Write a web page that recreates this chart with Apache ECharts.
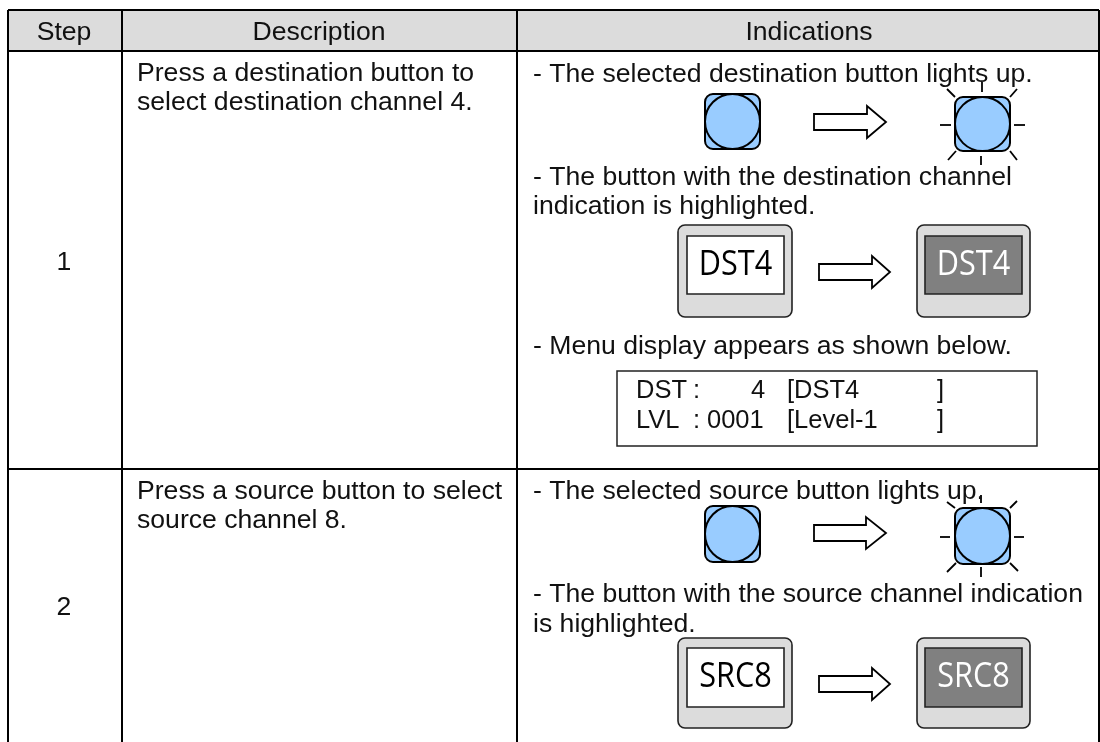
<!DOCTYPE html>
<html>
<head>
<meta charset="utf-8">
<title>Steps</title>
<script src="https://cdn.jsdelivr.net/npm/echarts@6/dist/echarts.min.js"></script>
<style>
  html, body { margin: 0; padding: 0; background: #fff; }
  #main { width: 1100px; height: 742px; }
</style>
</head>
<body>
<div id="main"></div>
<script>
const headerLabels = [[64, 39, 'Step'], [319, 39, 'Description'], [809, 39, 'Indications']];
const stepLabels = [[64, 269, '1'], [64, 614, '2']];
const bodyLines = [
  [137, 80, 'Press a destination button to'],
  [137, 109, 'select destination channel 4.'],
  [137, 498, 'Press a source button to select'],
  [137, 527, 'source channel 8.'],
  [533, 81, '- The selected destination button lights up.'],
  [533, 184, '- The button with the destination channel'],
  [533, 213, 'indication is highlighted.'],
  [533, 353, '- Menu display appears as shown below.'],
  [533, 498, '- The selected source button lights up.'],
  [533, 601, '- The button with the source channel indication'],
  [533, 631, 'is highlighted.']
];
const menuLines = [
  [636, 397, 'DST'], [693, 397, ':'], [751, 397, '4'], [787, 397, '[DST4'], [937, 397, ']'],
  [636, 427, 'LVL'], [693, 427, ':'], [707, 427, '0001'], [787, 427, '[Level-1'], [937, 427, ']']
];
// header band: x0, y0, x1, y1
const headerBand = [[8, 10, 1099, 51]];
// table rules: x0, y0, x1, y1
const tableRules = [
  [8, 10, 1099, 10],
  [8, 51, 1099, 51],
  [8, 469, 1099, 469],
  [8, 10, 8, 742],
  [122, 10, 122, 742],
  [517, 10, 517, 742],
  [1099, 10, 1099, 742]
];
const menuBox = [[617, 371, 1037, 446]];
// round buttons: x0, y0, x1, y1
const roundButtons = [
  [705, 94, 760, 149],
  [955, 97, 1010, 151],
  [705, 506, 760, 562],
  [955, 508, 1010, 564]
];
// rays around lit buttons: x0, y0, x1, y1
const rays = [
  [982, 82, 982, 92], [981, 156, 981, 165],
  [940, 125, 951, 125], [1014, 125, 1025, 125],
  [947, 89, 955, 97], [1017, 89, 1010, 97],
  [948, 160, 956, 151], [1017, 160, 1010, 151],
  [981, 495, 981, 503], [981, 567, 981, 577],
  [940, 537, 950, 537], [1014, 537, 1024, 537],
  [947, 502, 955, 508], [1017, 501, 1010, 508],
  [947, 572, 956, 563], [1018, 571, 1010, 563]
];
// arrows: tail x, head base x, tip x, centre y, shaft half height, head half height
const arrows = [
  [814, 867, 886, 122, 8, 16],
  [819, 872, 890, 272, 8, 16],
  [814, 866, 886, 533, 8, 16],
  [819, 872, 890, 684, 8, 16]
];
// display buttons: x0, y0, x1, y1, inner x0, inner y0, inner x1, inner y1, lit (1/0), label
const displayKeys = [
  [678, 225, 792, 317, 687, 236, 784, 294, 0, 'DST4'],
  [917, 225, 1030, 317, 925, 236, 1022, 294, 1, 'DST4'],
  [678, 638, 792, 728, 687, 648, 784, 707, 0, 'SRC8'],
  [917, 638, 1030, 728, 925, 648, 1022, 707, 1, 'SRC8']
];

const BODY_FONT = '26.6px "Liberation Sans"';
const MENU_FONT = '25.5px "Liberation Sans"';

function box(api, r) {
  const a = api.coord([r[0], r[1]]);
  const b = api.coord([r[2], r[3]]);
  return { x: a[0], y: a[1], width: b[0] - a[0], height: b[1] - a[1] };
}

function seg(api, r, width) {
  const a = api.coord([r[0], r[1]]);
  const b = api.coord([r[2], r[3]]);
  return {
    type: 'line',
    shape: { x1: a[0], y1: a[1], x2: b[0], y2: b[1] },
    style: { stroke: '#000', lineWidth: width, lineCap: 'butt' }
  };
}

// y in the arrays is the baseline, the text is placed by its middle
function text(api, d, align, font, lift) {
  const p = api.coord([d[0], d[1]]);
  return {
    type: 'text',
    style: { x: p[0], y: p[1] - lift, text: d[2], fill: '#111', font: font, align: align, verticalAlign: 'middle' }
  };
}

function layer(data, renderItem, z) {
  return {
    type: 'custom',
    coordinateSystem: 'cartesian2d',
    clip: false,
    silent: true,
    z: z,
    encode: { x: 0, y: 1 },
    data: data.map((d) => [d[0], d[1]]),
    renderItem: renderItem
  };
}

const chart = echarts.init(document.getElementById('main'), null, { renderer: 'canvas' });

chart.setOption({
  animation: false,
  backgroundColor: '#fff',
  grid: { left: 0, top: 0, right: 0, bottom: 0 },
  xAxis: { type: 'value', min: 0, max: 1100, show: false },
  yAxis: { type: 'value', min: 0, max: 742, inverse: true, show: false },
  series: [
    layer(headerBand, (p, api) => {
      const b = box(api, headerBand[p.dataIndex]);
      return { type: 'rect', shape: b, style: { fill: '#dcdcdc' } };
    }, 1),
    layer(tableRules, (p, api) => seg(api, tableRules[p.dataIndex], 2), 2),
    layer(menuBox, (p, api) => {
      const b = box(api, menuBox[p.dataIndex]);
      return { type: 'rect', shape: b, style: { fill: '#fff', stroke: '#222', lineWidth: 1.5 } };
    }, 2),
    layer(roundButtons, (p, api) => {
      const b = box(api, roundButtons[p.dataIndex]);
      return {
        type: 'group',
        children: [
          { type: 'rect', shape: Object.assign({ r: 8 }, b), style: { fill: '#99ccff', stroke: '#000', lineWidth: 2 } },
          {
            type: 'ellipse',
            shape: { cx: b.x + b.width / 2, cy: b.y + b.height / 2, rx: b.width / 2, ry: b.height / 2 },
            style: { fill: '#99ccff', stroke: '#000', lineWidth: 2 }
          }
        ]
      };
    }, 3),
    layer(rays, (p, api) => seg(api, rays[p.dataIndex], 1.8), 3),
    layer(arrows, (p, api) => {
      const r = arrows[p.dataIndex];
      const pts = [
        [r[0], r[3] - r[4]], [r[1], r[3] - r[4]], [r[1], r[3] - r[5]], [r[2], r[3]],
        [r[1], r[3] + r[5]], [r[1], r[3] + r[4]], [r[0], r[3] + r[4]]
      ].map((q) => api.coord(q));
      return { type: 'polygon', shape: { points: pts }, style: { fill: '#fff', stroke: '#000', lineWidth: 1.8 } };
    }, 3),
    layer(displayKeys, (p, api) => {
      const r = displayKeys[p.dataIndex];
      const outer = box(api, r.slice(0, 4));
      const inner = box(api, r.slice(4, 8));
      const lit = r[8] === 1;
      const cx = inner.x + inner.width / 2;
      const cy = inner.y + inner.height / 2;
      return {
        type: 'group',
        children: [
          { type: 'rect', shape: Object.assign({ r: 7 }, outer), style: { fill: '#dcdcdc', stroke: '#222', lineWidth: 1.6 } },
          { type: 'rect', shape: inner, style: { fill: lit ? '#808080' : '#fff', stroke: '#222', lineWidth: 1.6 } },
          {
            type: 'text',
            x: cx,
            y: cy,
            scaleX: 0.875,
            style: {
              x: 0, y: 0, text: r[9], fill: lit ? '#fff' : '#000',
              font: '35px "Open Sans"', align: 'center', verticalAlign: 'middle'
            }
          }
        ]
      };
    }, 3),
    layer(headerLabels, (p, api) => text(api, headerLabels[p.dataIndex], 'center', BODY_FONT, 6.5), 4),
    layer(stepLabels, (p, api) => text(api, stepLabels[p.dataIndex], 'center', BODY_FONT, 6.5), 4),
    layer(bodyLines, (p, api) => text(api, bodyLines[p.dataIndex], 'left', BODY_FONT, 6.5), 4),
    layer(menuLines, (p, api) => text(api, menuLines[p.dataIndex], 'left', MENU_FONT, 6.3), 4)
  ]
});
</script>
</body>
</html>
